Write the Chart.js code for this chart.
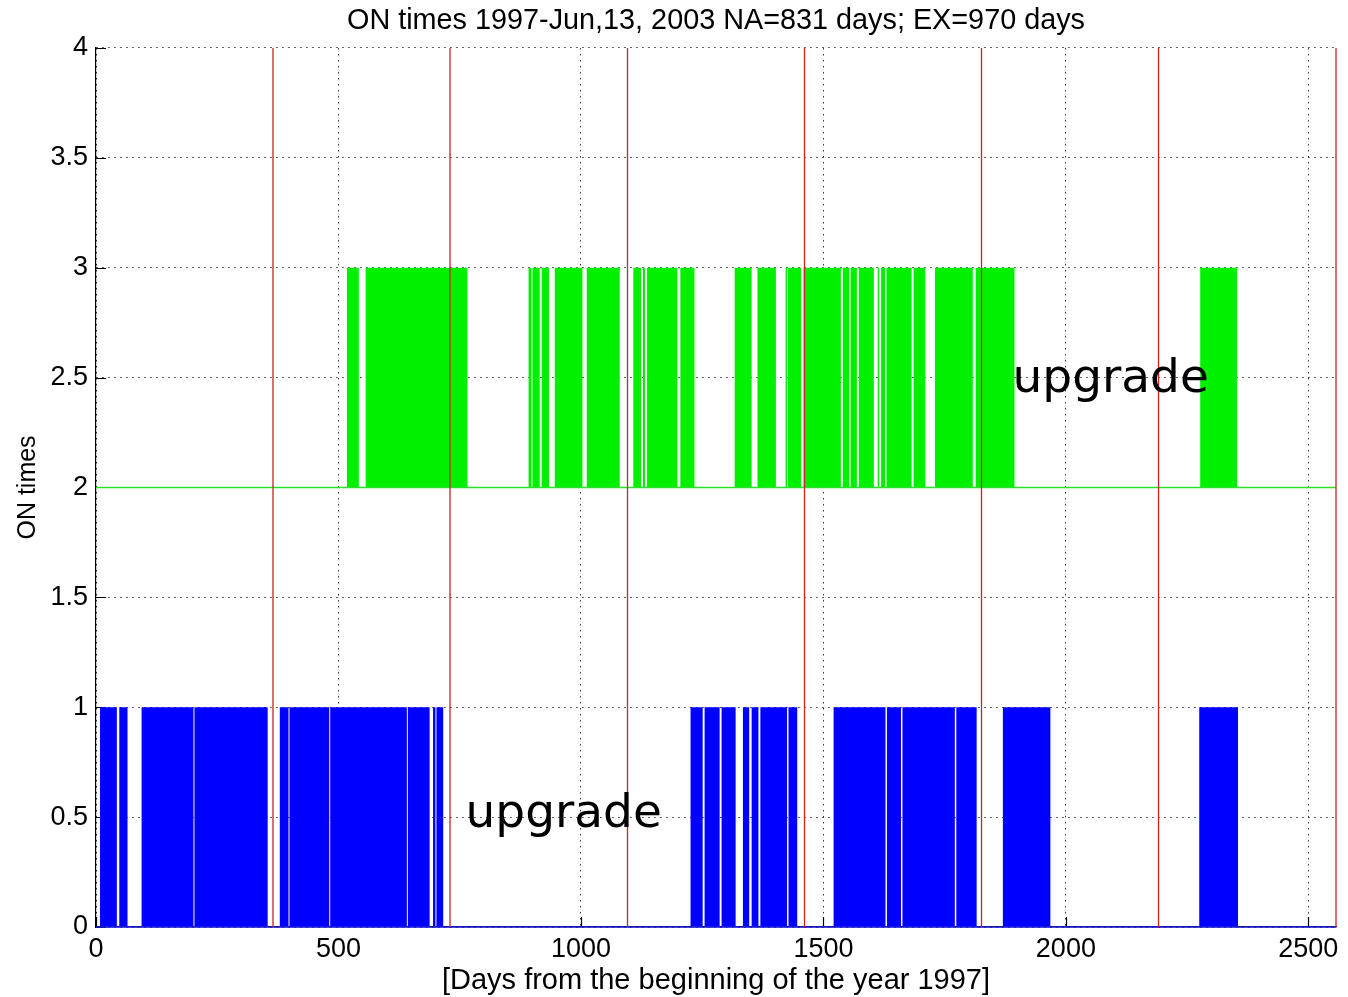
<!DOCTYPE html>
<html>
<head>
<meta charset="utf-8">
<title>ON times</title>
<script src="https://cdn.jsdelivr.net/npm/chart.js@4.4.0/dist/chart.umd.min.js"></script>
<style>
  html, body { margin: 0; padding: 0; background: #ffffff; }
  #wrap { width: 1348px; height: 997px; }
</style>
</head>
<body>
<div id="wrap"><canvas id="c" width="1348" height="997"></canvas></div>
<script>
// ON intervals of the lower station (day numbers since 1 Jan 1997)
const blueStarts = [8, 48, 94, 203, 379, 399, 483, 643, 695, 702,
                    1226, 1255, 1290, 1334, 1352, 1370, 1428,
                    1521, 1631, 1663, 1774, 1870, 2275];
const blueEnds   = [43, 65, 201, 354, 397, 481, 641, 688, 700, 716,
                    1251, 1286, 1319, 1347, 1366, 1425, 1446,
                    1628, 1660, 1771, 1816, 1968, 2355];

// ON intervals of the upper station
const greenStarts = [517, 556, 892, 900, 919, 946, 1012, 1108, 1128, 1136, 1205,
                     1317, 1364, 1422, 1427, 1459, 1540, 1556, 1573, 1612, 1619,
                     1630, 1686, 1730, 1814, 2277];
const greenEnds   = [542, 766, 898, 915, 934, 1003, 1080, 1124, 1132, 1199, 1234,
                     1352, 1402, 1425, 1454, 1536, 1553, 1569, 1604, 1615, 1627,
                     1682, 1710, 1808, 1894, 2353];

// Base and top level of each band
const blueLevels  = [0, 1];
const greenLevels = [2, 3];

// Start of each new year
const yearBoundaries = [365, 730, 1096, 1461, 1826, 2191, 2557];

// Axis ranges and ticks
const xRange = [0, 2557];
const yRange = [0, 4];
const xTicks = [0, 500, 1000, 1500, 2000, 2500];
const yTicks = [0, 0.5, 1, 1.5, 2, 2.5, 3, 3.5, 4];

// Text notes placed in data coordinates
const noteX    = [762, 1890];
const noteY    = [0.51, 2.49];
const noteText = ['upgrade', 'upgrade'];

const titleText = 'ON times 1997-Jun,13, 2003 NA=831 days; EX=970 days';
const xTitle = '[Days from the beginning of the year 1997]';
const yTitle = 'ON times';

// Turn start/end lists into a stepped outline that rises to the top level
function bandPoints(starts, ends, levels) {
  const pts = [];
  starts.forEach((s, i) => {
    const e = ends[i];
    pts.push({x: s, y: levels[0]}, {x: s, y: levels[1]},
             {x: e, y: levels[1]}, {x: e, y: levels[0]});
  });
  return pts;
}

// Vertical lines separated by gaps
function yearLinePoints() {
  const pts = [];
  yearBoundaries.forEach(d => {
    pts.push({x: d, y: yRange[0]}, {x: d, y: yRange[1]}, {x: d, y: null});
  });
  return pts;
}

const SANS = '"Liberation Sans", Arial, Helvetica, sans-serif';

const innerTicks = {
  id: 'innerTicks',
  beforeDatasetsDraw(chart) {
    const {ctx, chartArea: a, scales: {x, y}} = chart;
    ctx.save();
    ctx.strokeStyle = '#000';
    ctx.lineWidth = 1.2;
    ctx.beginPath();
    xTicks.forEach(v => {
      const px = Math.round(x.getPixelForValue(v)) + 0.5;
      ctx.moveTo(px, a.bottom);
      ctx.lineTo(px, a.bottom - 10);
    });
    yTicks.forEach(v => {
      const py = Math.round(y.getPixelForValue(v)) + 0.5;
      ctx.moveTo(a.left, py);
      ctx.lineTo(a.left + 10, py);
    });
    ctx.stroke();
    ctx.restore();
  }
};

const notes = {
  id: 'notes',
  afterDatasetsDraw(chart) {
    const {ctx, scales: {x, y}} = chart;
    ctx.save();
    ctx.fillStyle = '#000';
    ctx.font = '47px "DejaVu Sans", sans-serif';
    ctx.textAlign = 'left';
    ctx.textBaseline = 'middle';
    noteText.forEach((t, i) => {
      ctx.fillText(t, x.getPixelForValue(noteX[i]), y.getPixelForValue(noteY[i]));
    });
    ctx.restore();
  }
};

new Chart(document.getElementById('c'), {
  type: 'line',
  data: {
    datasets: [
      {
        label: 'years',
        data: yearLinePoints(),
        borderColor: 'rgb(205,35,35)',
        borderWidth: 1.3,
        pointRadius: 0,
        spanGaps: false,
        fill: false,
        clip: 4,
        order: 0
      },
      {
        label: 'green base',
        data: [{x: xRange[0], y: greenLevels[0]}, {x: xRange[1], y: greenLevels[0]}],
        borderColor: 'rgb(40,225,40)',
        borderWidth: 1.4,
        pointRadius: 0,
        fill: false,
        clip: 4,
        order: 1
      },
      {
        label: 'blue base',
        data: [{x: xRange[0], y: blueLevels[0]}, {x: xRange[1], y: blueLevels[0]}],
        borderColor: 'rgb(30,30,230)',
        borderWidth: 1.6,
        pointRadius: 0,
        fill: false,
        clip: 4,
        order: 1
      },
      {
        label: 'upper',
        data: bandPoints(greenStarts, greenEnds, greenLevels),
        borderColor: 'rgba(0,0,0,0)',
        borderWidth: 0,
        backgroundColor: '#00f000',
        pointRadius: 0,
        fill: {value: greenLevels[0]},
        order: 2
      },
      {
        label: 'lower',
        data: bandPoints(blueStarts, blueEnds, blueLevels),
        borderColor: 'rgba(0,0,0,0)',
        borderWidth: 0,
        backgroundColor: '#0000ff',
        pointRadius: 0,
        fill: {value: blueLevels[0]},
        order: 2
      }
    ]
  },
  plugins: [innerTicks, notes],
  options: {
    responsive: false,
    animation: false,
    devicePixelRatio: 1,
    layout: { padding: { left: 0, right: 12, top: 0, bottom: 0 } },
    elements: { line: { tension: 0 } },
    plugins: {
      legend: { display: false },
      tooltip: { enabled: false },
      title: {
        display: true,
        text: titleText,
        fullSize: false,
        color: '#000',
        font: { family: SANS, size: 28.8, weight: 'normal', lineHeight: 1.2 },
        padding: { top: 4, bottom: 9.4 }
      }
    },
    scales: {
      x: {
        type: 'linear',
        min: xRange[0],
        max: xRange[1],
        afterBuildTicks: s => { s.ticks = xTicks.map(v => ({value: v})); },
        afterFit: s => { s.height = 70; },
        ticks: {
          color: '#000',
          padding: 6,
          font: { family: SANS, size: 27 },
          maxRotation: 0,
          callback: v => String(v)
        },
        grid: { color: '#333', lineWidth: 1, drawTicks: false },
        border: { display: true, color: '#000', width: 1.2, dash: [1.5, 4.5] },
        title: {
          display: true,
          text: xTitle,
          color: '#000',
          font: { family: SANS, size: 29, lineHeight: 1.1 },
          padding: { top: 0, bottom: 0 }
        }
      },
      y: {
        type: 'linear',
        min: yRange[0],
        max: yRange[1],
        afterBuildTicks: s => { s.ticks = yTicks.map(v => ({value: v})); },
        afterFit: s => { s.width = 96; },
        ticks: {
          color: '#000',
          padding: 8,
          font: { family: SANS, size: 27 },
          callback: v => String(v)
        },
        grid: { color: '#333', lineWidth: 1, drawTicks: false },
        border: { display: true, color: '#000', width: 1.2, dash: [1.5, 4.5] },
        title: {
          display: true,
          text: yTitle,
          color: '#000',
          font: { family: SANS, size: 25, lineHeight: 1.2 },
          padding: { top: 13, bottom: 0 }
        }
      }
    }
  }
});
</script>
</body>
</html>
